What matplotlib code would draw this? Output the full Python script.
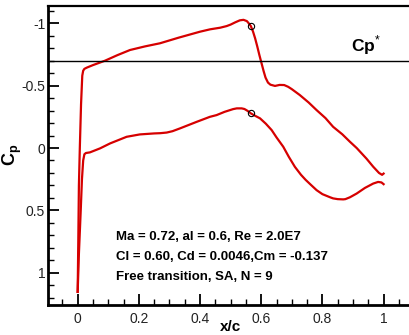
import numpy as np
import matplotlib
matplotlib.use('Agg')
import matplotlib.pyplot as plt
from matplotlib.ticker import MultipleLocator, FixedLocator

plt.rcParams['font.family'] = ['Liberation Sans', 'DejaVu Sans']
plt.rcParams['axes.unicode_minus'] = False
plt.rcParams['mathtext.fontset'] = 'custom'
plt.rcParams['mathtext.rm'] = 'Liberation Sans'
plt.rcParams['mathtext.bf'] = 'Liberation Sans:bold'

# upper surface (suction side)
x_upper = [0.0, 0.002, 0.004, 0.007, 0.011, 0.015, 0.018, 0.022, 0.03, 0.05, 0.089, 0.13,
           0.171, 0.22, 0.269, 0.33, 0.40, 0.433, 0.466, 0.487, 0.50, 0.515, 0.53, 0.542,
           0.553, 0.561, 0.566, 0.573, 0.58, 0.587, 0.594, 0.601, 0.608, 0.614, 0.622, 0.63,
           0.645, 0.66, 0.675, 0.688, 0.70, 0.726, 0.755, 0.781, 0.81, 0.835, 0.865, 0.89,
           0.912, 0.944, 0.966, 0.985, 0.995, 1.0]
cp_upper = [1.154, 0.75, 0.3, 0.0, -0.35, -0.58, -0.62, -0.635, -0.645, -0.665, -0.70, -0.745,
            -0.786, -0.815, -0.84, -0.885, -0.933, -0.952, -0.965, -0.978, -0.99, -1.008, -1.024, -1.028,
            -1.018, -0.995, -0.978, -0.935, -0.88, -0.815, -0.745, -0.68, -0.615, -0.565, -0.525, -0.508,
            -0.498, -0.506, -0.505, -0.491, -0.472, -0.425, -0.365, -0.304, -0.24, -0.17, -0.11, -0.05,
            0.0, 0.085, 0.15, 0.2, 0.215, 0.205]

# lower surface (pressure side)
x_lower = [0.0, 0.004, 0.010, 0.014, 0.018, 0.022, 0.027, 0.04, 0.073, 0.106, 0.16, 0.203,
           0.25, 0.27, 0.291, 0.31, 0.334, 0.389, 0.432, 0.454, 0.48, 0.508, 0.52, 0.536,
           0.545, 0.552, 0.557, 0.566, 0.575, 0.596, 0.615, 0.634, 0.65, 0.672, 0.69, 0.71,
           0.73, 0.745, 0.76, 0.781, 0.80, 0.81, 0.825, 0.835, 0.85, 0.868, 0.875, 0.89,
           0.912, 0.939, 0.966, 0.982, 0.993, 1.0]
cp_lower = [1.154, 0.85, 0.5, 0.25, 0.1, 0.05, 0.04, 0.035, 0.003, -0.037, -0.09, -0.109,
            -0.117, -0.119, -0.124, -0.135, -0.157, -0.21, -0.25, -0.264, -0.29, -0.312, -0.318, -0.318,
            -0.313, -0.303, -0.295, -0.278, -0.265, -0.238, -0.195, -0.144, -0.085, -0.01, 0.07, 0.151,
            0.215, 0.255, 0.29, 0.338, 0.37, 0.38, 0.395, 0.404, 0.41, 0.412, 0.41, 0.395,
            0.365, 0.32, 0.285, 0.272, 0.276, 0.29]

# transition points
x_trans = [0.566, 0.566]
cp_trans = [-0.978, -0.278]

cp_star = -0.6996

fig = plt.figure(figsize=(4.09, 3.35), dpi=100)
ax = fig.add_axes([48 / 409, 1 - 305 / 335, 1 - 48 / 409, 299 / 335])

red = '#d60000'
ax.plot(x_upper, cp_upper, color=red, lw=1.6, solid_joinstyle='round')
ax.plot(x_lower, cp_lower, color=red, lw=1.6, solid_joinstyle='round')
ax.plot(x_trans, cp_trans, 'o', mfc='none', mec='black', ms=4.5, mew=0.8)
ax.axhline(cp_star, color='black', lw=1.0)

ax.set_xlim(-0.097, 1.083)
ax.set_ylim(1.259, -1.139)

ax.spines['right'].set_visible(False)
ax.spines['left'].set_linewidth(2.0)
ax.spines['bottom'].set_linewidth(2.0)
ax.spines['top'].set_linewidth(1.6)

ax.xaxis.set_major_locator(FixedLocator([0, 0.2, 0.4, 0.6, 0.8, 1.0]))
ax.set_xticklabels(['0', '0.2', '0.4', '0.6', '0.8', '1'])
ax.xaxis.set_minor_locator(MultipleLocator(0.05))
ax.yaxis.set_major_locator(FixedLocator([-1, -0.5, 0, 0.5, 1]))
ax.set_yticklabels(['-1', '-0.5', '0', '0.5', '1'])
ax.yaxis.set_minor_locator(MultipleLocator(0.1))

ax.tick_params(which='both', direction='in', top=False, right=False, color='black')
ax.tick_params(which='major', length=8, width=1.3, labelsize=10, labelcolor='#222222')
ax.tick_params(which='minor', length=4.5, width=1.0)
ax.tick_params(axis='y', pad=2)
ax.tick_params(axis='x', pad=5)

fig.text(12 / 409, 1 - 155 / 335, r'$\mathbf{C}_\mathbf{p}$', rotation=90,
         ha='center', va='center', fontsize=13)
fig.text(231 / 409, 1 - 327 / 335, 'x/c', ha='center', va='center',
         fontsize=11, fontweight='bold')
fig.text(351 / 409, 1 - 51.7 / 335, r'$\mathbf{Cp}^{*}$', ha='left', va='baseline',
         fontsize=12.5)

notes = ['Ma = 0.72, al = 0.6, Re = 2.0E7',
         'Cl = 0.60, Cd = 0.0046,Cm = -0.137',
         'Free transition, SA, N = 9']
for i, s in enumerate(notes):
    fig.text(116 / 409, 1 - (240 + 20 * i) / 335, s, ha='left', va='baseline',
             fontsize=9.5, fontweight='bold')

fig.savefig('out.png', dpi=100)
